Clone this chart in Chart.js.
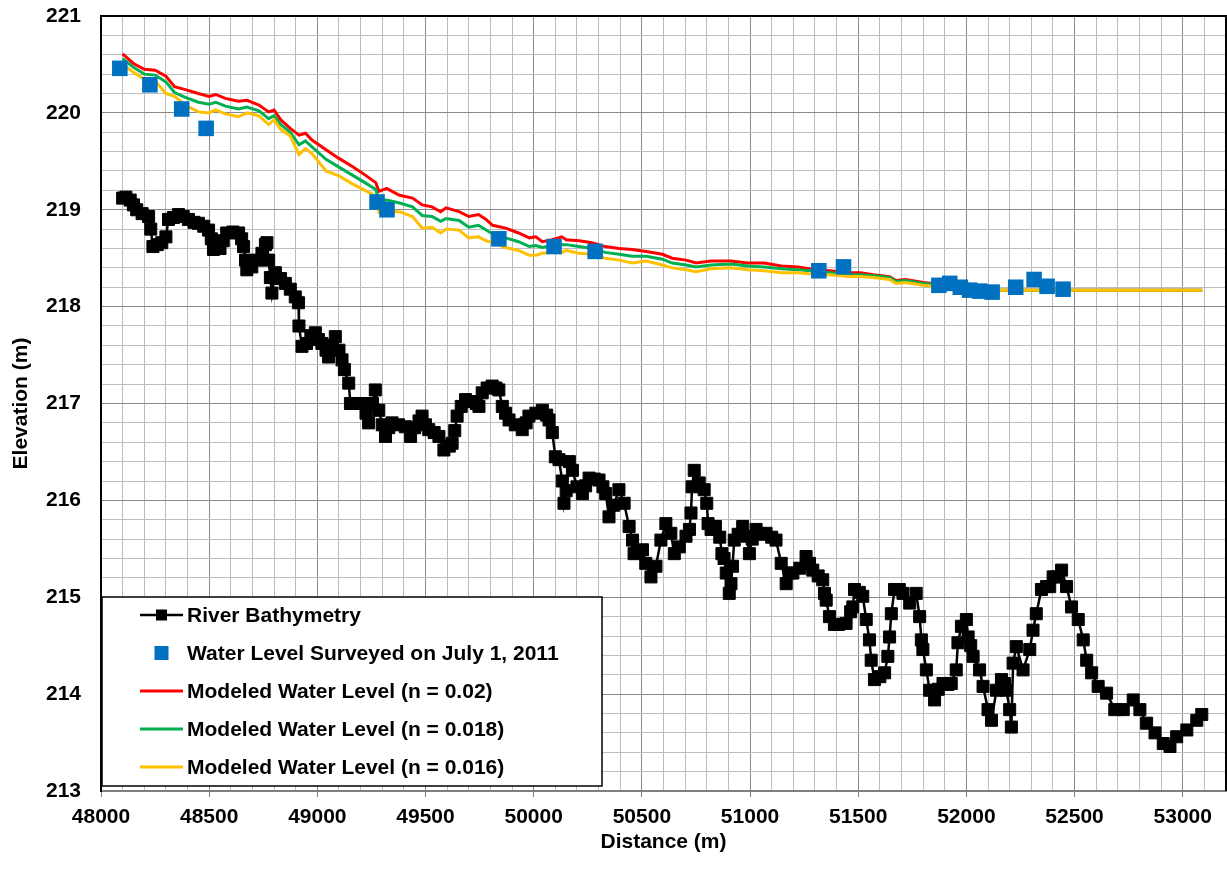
<!DOCTYPE html>
<html>
<head>
<meta charset="utf-8">
<title>River Bathymetry and Water Level Profile</title>
<script src="https://cdn.jsdelivr.net/npm/chart.js@4.4.1/dist/chart.umd.min.js"></script>
<style>
  html, body { margin: 0; padding: 0; background: #fff; overflow: hidden; }
  #wrap { width: 1227px; height: 869px; position: relative; }
</style>
</head>
<body>
<div id="wrap"><canvas id="profile"></canvas></div>
<script>
// ---- River bed survey (distance m, elevation m) ----
const bathyX = [
  48100,48115,48135,48150,48165,48190,48220,48230,48240,48260,48281,48300,48312,48335,48358,48380,48404,48430,48450,48475,
  48497,48510,48520,48550,48565,48581,48610,48636,48650,48659,48668,48674,48697,48720,48744,48760,48767,48775,48783,48790,
  48800,48806,48830,48852,48875,48898,48913,48915,48929,48950,48970,48991,49005,49021,49040,49052,49070,49083,49100,49114,
  49125,49145,49153,49180,49207,49225,49237,49255,49268,49284,49300,49315,49330,49345,49375,49407,49431,49450,49470,49484,
  49500,49515,49540,49562,49585,49610,49623,49635,49646,49665,49685,49710,49735,49747,49762,49785,49808,49825,49839,49855,
  49870,49886,49915,49947,49965,49978,50010,50040,50060,50071,50086,50100,50117,50132,50140,50150,50165,50179,50200,50225,
  50240,50256,50280,50302,50320,50333,50348,50370,50394,50418,50441,50457,50464,50480,50503,50518,50542,50565,50588,50611,
  50634,50650,50673,50704,50720,50727,50732,50742,50765,50788,50800,50806,50820,50840,50860,50870,50880,50890,50904,50912,
  50919,50927,50945,50966,50985,50997,51010,51028,51050,51074,51100,51120,51144,51167,51180,51198,51230,51259,51275,51290,
  51315,51336,51344,51352,51367,51390,51410,51444,51465,51475,51483,51505,51521,51537,51552,51560,51575,51600,51622,51637,
  51645,51653,51668,51690,51707,51738,51768,51784,51792,51799,51815,51830,51853,51870,51892,51915,51930,51953,51961,51977,
  52000,52008,52020,52031,52061,52077,52100,52116,52139,52162,52177,52185,52200,52208,52216,52231,52262,52293,52308,52323,
  52347,52370,52385,52401,52416,52440,52463,52486,52517,52540,52556,52579,52609,52648,52686,52725,52771,52802,52833,52872,
  52910,52941,52972,53019,53065,53088
];
const bathyY = [
  219.12,219.13,219.10,219.05,219.00,218.96,218.93,218.80,218.62,218.64,218.66,218.72,218.90,218.92,218.95,218.93,218.90,218.87,218.86,218.83,
  218.79,218.70,218.59,218.60,218.68,218.76,218.77,218.76,218.70,218.62,218.48,218.38,218.41,218.48,218.55,218.64,218.66,218.48,218.30,218.14,
  218.30,218.35,218.29,218.24,218.18,218.10,218.04,217.80,217.59,217.62,217.70,217.73,217.66,217.62,217.55,217.48,217.60,217.69,217.55,217.45,
  217.35,217.21,217.00,217.00,217.00,216.90,216.80,217.00,217.14,216.93,216.78,216.66,216.75,216.80,216.78,216.76,216.66,216.75,216.82,216.87,
  216.78,216.73,216.70,216.66,216.52,216.56,216.59,216.72,216.87,216.97,217.04,217.02,217.00,216.97,217.11,217.16,217.18,217.16,217.14,216.97,
  216.90,216.83,216.78,216.73,216.80,216.87,216.90,216.93,216.88,216.83,216.70,216.45,216.42,216.20,215.97,216.10,216.40,216.31,216.14,216.07,
  216.15,216.23,216.22,216.21,216.14,216.07,215.83,215.95,216.11,215.97,215.73,215.59,215.45,215.47,215.49,215.35,215.21,215.32,215.59,215.76,
  215.66,215.45,215.52,215.63,215.70,215.87,216.14,216.31,216.18,216.11,215.97,215.76,215.70,215.73,215.62,215.45,215.40,215.25,215.04,215.14,
  215.32,215.59,215.65,215.73,215.63,215.45,215.60,215.70,215.65,215.66,215.62,215.59,215.35,215.14,215.25,215.25,215.30,215.42,215.35,215.28,
  215.22,215.18,215.04,214.97,214.80,214.72,214.72,214.73,214.85,214.90,215.08,215.05,215.01,214.77,214.56,214.35,214.15,214.18,214.22,214.39,
  214.59,214.83,215.08,215.08,215.04,214.94,215.04,214.80,214.56,214.46,214.25,214.04,213.94,214.05,214.11,214.10,214.11,214.25,214.53,214.70,
  214.77,214.59,214.50,214.39,214.25,214.08,213.84,213.73,214.04,214.15,214.11,214.04,213.84,213.66,214.32,214.49,214.25,214.46,214.66,214.83,
  215.08,215.11,215.11,215.21,215.21,215.28,215.11,214.90,214.77,214.56,214.35,214.22,214.08,214.01,213.84,213.84,213.94,213.84,213.70,213.60,
  213.49,213.46,213.56,213.63,213.73,213.79
];

// ---- Water surface survey, July 1, 2011 ----
const surveyX = [48087,48226,48373,48486,49276,49322,49839,50094,50284,51318,51432,51873,51923,51972,52015,52062,52119,52228,52313,52373,52447];
const surveyY = [220.46,220.29,220.04,219.84,219.08,219.00,218.70,218.62,218.57,218.37,218.41,218.22,218.24,218.20,218.17,218.16,218.15,218.20,218.28,218.21,218.18];

// ---- Modeled water surface profiles for three Manning's n values ----
const modelX = [
  48100,48150,48200,48250,48300,48340,48390,48450,48500,48530,48575,48635,48675,48730,48775,48800,48830,48875,48915,48945,
  48975,49040,49100,49160,49220,49270,49285,49320,49380,49440,49485,49530,49570,49595,49655,49700,49745,49780,49810,49870,
  49930,49980,50010,50040,50085,50130,50150,50210,50270,50330,50395,50455,50520,50595,50640,50705,50750,50820,50910,50990,
  51065,51145,51220,51275,51370,51460,51510,51570,51645,51675,51720,51800,51845,51900,51950,52000,52100,52300,52600,52900,
  53090
];
const modelN020 = [
  220.61,220.51,220.45,220.44,220.38,220.27,220.24,220.20,220.17,220.19,220.15,220.12,220.13,220.08,220.01,220.03,219.93,219.84,219.77,219.79,
  219.72,219.62,219.53,219.45,219.36,219.28,219.19,219.22,219.15,219.12,219.05,219.03,218.98,219.02,218.98,218.93,218.95,218.90,218.84,218.81,
  218.76,218.71,218.72,218.67,218.69,218.72,218.69,218.68,218.66,218.62,218.60,218.59,218.57,218.54,218.50,218.48,218.45,218.47,218.47,218.45,
  218.45,218.42,218.41,218.39,218.37,218.35,218.35,218.33,218.31,218.27,218.28,218.25,218.24,218.22,218.20,218.18,218.17,218.17,218.17,218.17,
  218.17
];
const modelN018 = [
  220.56,220.47,220.40,220.39,220.32,220.21,220.16,220.11,220.09,220.11,220.07,220.04,220.06,220.02,219.94,219.97,219.88,219.80,219.67,219.71,
  219.65,219.52,219.44,219.36,219.28,219.21,219.09,219.10,219.07,219.03,218.94,218.93,218.88,218.91,218.89,218.82,218.84,218.79,218.75,218.71,
  218.67,218.62,218.63,218.61,218.63,218.64,218.64,218.62,218.60,218.56,218.54,218.52,218.52,218.49,218.45,218.43,218.41,218.43,218.44,218.42,
  218.41,218.39,218.38,218.37,218.35,218.33,218.33,218.32,218.30,218.26,218.27,218.24,218.23,218.21,218.20,218.18,218.17,218.17,218.17,218.17,
  218.17
];
const modelN016 = [
  220.50,220.42,220.35,220.33,220.20,220.17,220.08,220.01,220.00,220.03,219.99,219.96,220.00,219.97,219.88,219.93,219.83,219.76,219.57,219.63,
  219.58,219.40,219.35,219.27,219.20,219.14,218.97,218.98,218.98,218.93,218.81,218.82,218.76,218.80,218.79,218.71,218.72,218.68,218.66,218.61,
  218.58,218.53,218.53,218.55,218.56,218.56,218.58,218.55,218.54,218.50,218.48,218.45,218.47,218.43,218.40,218.38,218.36,218.39,218.40,218.38,
  218.37,218.35,218.35,218.34,218.33,218.31,218.31,218.30,218.28,218.24,218.25,218.22,218.21,218.20,218.19,218.17,218.17,218.17,218.17,218.17,
  218.17
];

// ---- Axis labels ----
const xTickLabels = [48000,48500,49000,49500,50000,50500,51000,51500,52000,52500,53000];
const yTickLabels = [213,214,215,216,217,218,219,220,221];
const seriesLabels = [
  'River Bathymetry',
  'Water Level Surveyed on July 1, 2011',
  'Modeled Water Level (n = 0.02)',
  'Modeled Water Level (n = 0.018)',
  'Modeled Water Level (n = 0.016)'
];

const toPoints = (xs, ys) => xs.map((x, i) => ({ x: x, y: ys[i] }));

const GRID_MINOR = '#bdbdbd';
const GRID_MAJOR = '#8a8a8a';
const FONT_FAMILY = '"Liberation Sans", Arial, Helvetica, sans-serif';

Chart.defaults.font.family = FONT_FAMILY;
Chart.defaults.font.size = 21;
Chart.defaults.font.weight = 'bold';
Chart.defaults.color = '#000';

// Legend box drawn inside the plot, lower left corner, plus the plot frame
const insideLegend = {
  id: 'insideLegend',
  afterDatasetsDraw(chart) {
    const ctx = chart.ctx;
    const box = { x: 102, y: 597, w: 500, h: 189 };
    ctx.save();
    ctx.fillStyle = '#fff';
    ctx.fillRect(box.x, box.y, box.w, box.h);
    ctx.strokeStyle = '#000';
    ctx.lineWidth = 1.5;
    ctx.strokeRect(box.x, box.y, box.w, box.h);
    const rowY = [615, 653, 691, 729, 767];
    const x0 = 140, x1 = 183, tx = 187;
    ctx.font = 'bold 21px ' + FONT_FAMILY;
    ctx.textBaseline = 'middle';
    ctx.textAlign = 'left';
    chart.data.datasets.forEach((ds, i) => {
      const y = rowY[i];
      if (ds.showLine) {
        ctx.strokeStyle = ds.borderColor;
        ctx.lineWidth = ds.borderWidth;
        ctx.beginPath();
        ctx.moveTo(x0, y);
        ctx.lineTo(x1, y);
        ctx.stroke();
      }
      if (ds.pointRadius > 0) {
        const s = ds.legendMarker;
        ctx.fillStyle = ds.pointBackgroundColor;
        ctx.fillRect((x0 + x1) / 2 - s / 2, y - s / 2, s, s);
      }
      ctx.fillStyle = '#000';
      ctx.fillText(ds.label, tx, y + 1);
    });
    ctx.restore();
  },
  afterDraw(chart) {
    const a = chart.chartArea;
    const ctx = chart.ctx;
    ctx.save();
    ctx.strokeStyle = '#000';
    ctx.lineWidth = 2;
    ctx.beginPath();
    ctx.moveTo(a.left, a.bottom);
    ctx.lineTo(a.left, a.top);
    ctx.lineTo(a.right, a.top);
    ctx.lineTo(a.right, a.bottom);
    ctx.stroke();
    ctx.restore();
  }
};

const isInt = v => Math.abs(v - Math.round(v)) < 1e-6;

new Chart(document.getElementById('profile'), {
  type: 'scatter',
  data: {
    datasets: [
      {
        label: seriesLabels[0],
        data: toPoints(bathyX, bathyY),
        showLine: true,
        borderColor: '#000',
        borderWidth: 2.5,
        pointStyle: 'rect',
        pointRadius: 8.5,
        pointBackgroundColor: '#000',
        pointBorderColor: '#000',
        pointBorderWidth: 1,
        legendMarker: 11,
        order: 0
      },
      {
        label: seriesLabels[1],
        data: toPoints(surveyX, surveyY),
        showLine: false,
        pointStyle: 'rect',
        pointRadius: 11,
        pointBackgroundColor: '#0070C0',
        pointBorderColor: '#0070C0',
        pointBorderWidth: 0,
        legendMarker: 14,
        order: 1
      },
      {
        label: seriesLabels[2],
        data: toPoints(modelX, modelN020),
        showLine: true,
        borderColor: '#FF0000',
        borderWidth: 3,
        pointRadius: 0,
        order: 4
      },
      {
        label: seriesLabels[3],
        data: toPoints(modelX, modelN018),
        showLine: true,
        borderColor: '#00B050',
        borderWidth: 3,
        pointRadius: 0,
        order: 3
      },
      {
        label: seriesLabels[4],
        data: toPoints(modelX, modelN016),
        showLine: true,
        borderColor: '#FFC000',
        borderWidth: 3,
        pointRadius: 0,
        order: 2
      }
    ]
  },
  options: {
    responsive: true,
    maintainAspectRatio: false,
    animation: false,
    events: [],
    layout: { autoPadding: false, padding: { top: 16, right: 1, left: 0, bottom: 0 } },
    plugins: {
      legend: { display: false },
      tooltip: { enabled: false }
    },
    scales: {
      x: {
        type: 'linear',
        min: 48000,
        max: 53200,
        afterBuildTicks(scale) {
          const ticks = [];
          for (let v = 48000; v <= 53200; v += 100) ticks.push({ value: v });
          scale.ticks = ticks;
        },
        afterFit(scale) {
          scale.height = 78;
          scale.paddingLeft = 0;
          scale.paddingRight = 0;
        },
        ticks: {
          autoSkip: false,
          maxRotation: 0,
          padding: 8,
          callback: v => (xTickLabels.includes(v) ? String(v) : '')
        },
        grid: {
          color: c => (c.tick && c.tick.value % 500 === 0 ? GRID_MAJOR : GRID_MINOR),
          lineWidth: 1,
          tickLength: 6,
          tickColor: c => (c.tick && c.tick.value % 500 === 0 ? '#7f7f7f' : 'rgba(0,0,0,0)')
        },
        border: { display: true, color: '#7f7f7f', width: 2 },
        title: {
          display: true,
          text: 'Distance (m)',
          font: { size: 21, weight: 'bold' },
          padding: { top: 0, bottom: 14 }
        }
      },
      y: {
        type: 'linear',
        min: 213,
        max: 221,
        afterBuildTicks(scale) {
          const ticks = [];
          for (let i = 0; i <= 40; i++) ticks.push({ value: Math.round((213 + i * 0.2) * 10) / 10 });
          scale.ticks = ticks;
        },
        afterFit(scale) {
          scale.width = 101;
          scale.paddingTop = 0;
          scale.paddingBottom = 0;
        },
        ticks: {
          autoSkip: false,
          padding: 20,
          callback: v => (isInt(v) && yTickLabels.includes(Math.round(v)) ? String(Math.round(v)) : '')
        },
        grid: {
          color: c => (c.tick && isInt(c.tick.value) ? GRID_MAJOR : GRID_MINOR),
          lineWidth: 1,
          drawTicks: false
        },
        border: { display: true, color: '#000', width: 2 },
        title: {
          display: true,
          text: 'Elevation (m)',
          font: { size: 21, weight: 'bold' },
          padding: { top: 9, bottom: 0 }
        }
      }
    }
  },
  plugins: [insideLegend]
});
</script>
</body>
</html>
